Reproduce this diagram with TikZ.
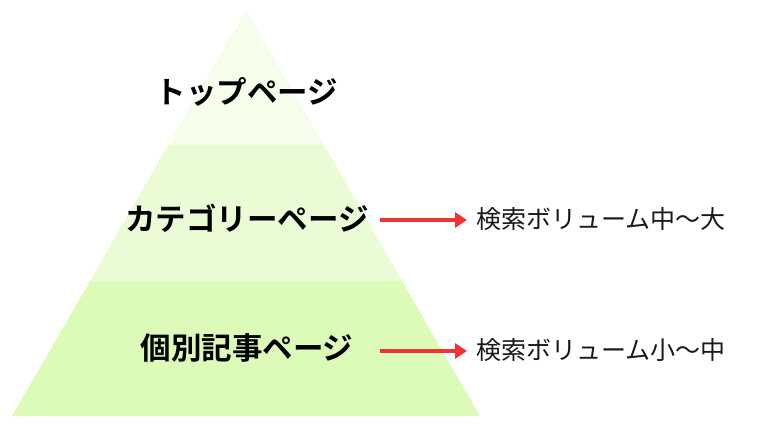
\documentclass[tikz,border=0pt]{standalone}
\usepackage{fontspec}
\newfontfamily\jp{Noto Sans CJK JP}
\newfontfamily\jpb{Noto Sans CJK JP Bold}
\usetikzlibrary{arrows.meta}
\definecolor{tierA}{RGB}{245,253,235}
\definecolor{tierB}{RGB}{234,252,214}
\definecolor{tierC}{RGB}{221,251,184}
\definecolor{arrowred}{RGB}{240,52,52}
\tikzset{
  tiertext/.style={font=\jpb\fontsize{30.5}{34}\selectfont, text=black, inner sep=0pt},
  voltext/.style={font=\jp\fontsize{25}{30}\selectfont, text=black!90, inner sep=0pt, anchor=west},
  volarrow/.style={draw=arrowred, line width=4pt, -{Triangle[length=12pt,width=15pt]}}
}
\begin{document}
\begin{tikzpicture}[x=1pt,y=-1pt]
\useasboundingbox (0,0) rectangle (760,428);
% tiers
\fill[tierA] (246,10) -- (324,145) -- (168,145) -- cycle;
\fill[tierB] (168,145) -- (324,145) -- (402,281) -- (90,281) -- cycle;
\fill[tierC] (90,281) -- (402,281) -- (480,416) -- (12,416) -- cycle;
% labels
\node[tiertext] (top) at (247,92) {トップページ};
\node[tiertext] (cat) at (247,218) {カテゴリーページ};
\node[tiertext] (art) at (247,348) {個別記事ページ};
\node[voltext] (v1) at (476,219) {検索ボリューム中〜大};
\node[voltext] (v2) at (476,350) {検索ボリューム小〜中};
% arrows
\coordinate (a1s) at (380,220);
\coordinate (a1e) at (467,220);
\coordinate (a2s) at (380,351);
\coordinate (a2e) at (467,351);
\draw[volarrow] (a1s) -- (a1e);
\draw[volarrow] (a2s) -- (a2e);
\end{tikzpicture}
\end{document}
